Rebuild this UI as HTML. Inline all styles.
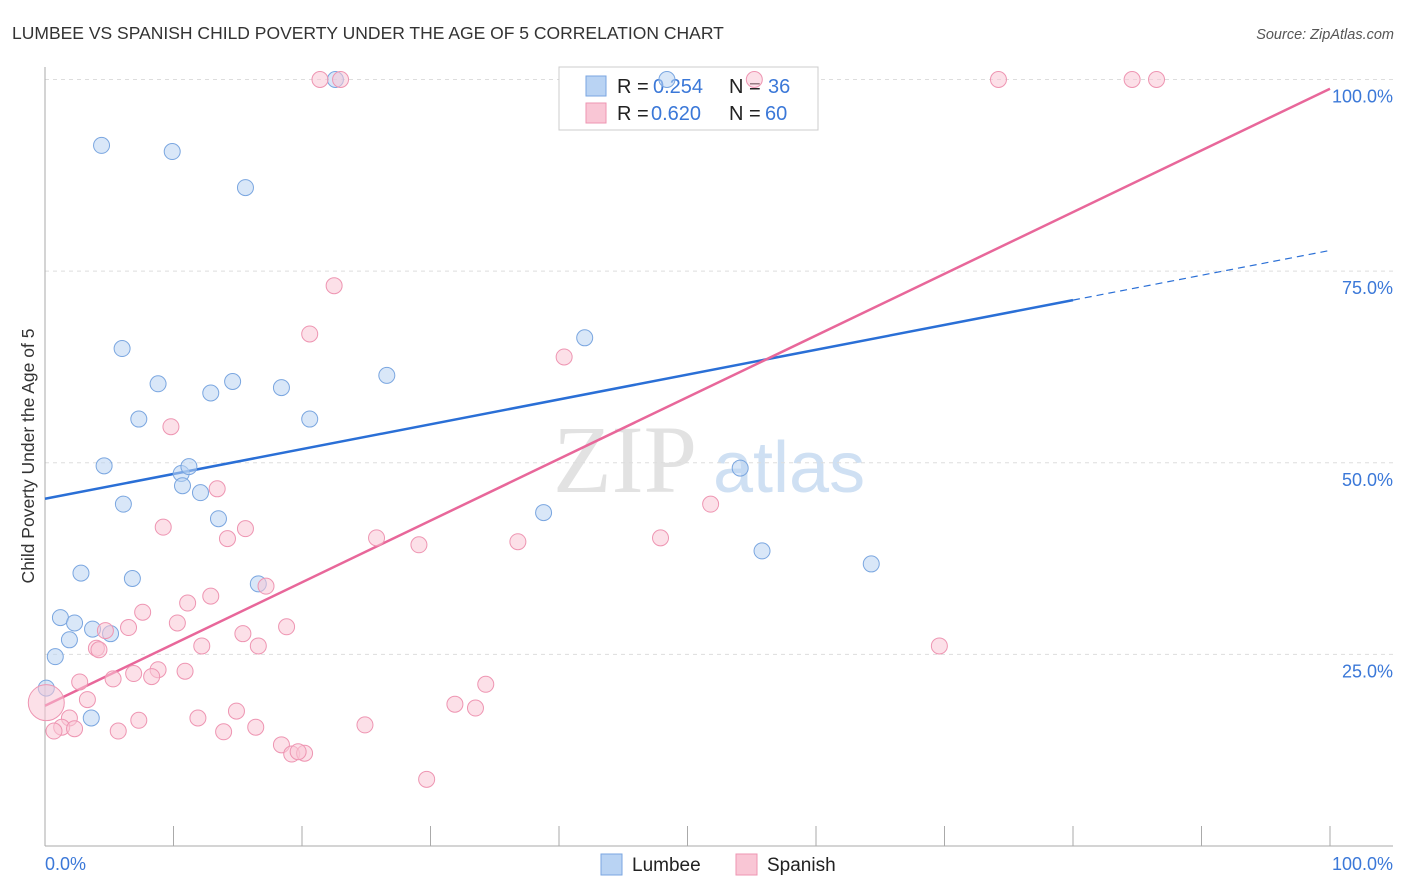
<!DOCTYPE html>
<html><head><meta charset="utf-8"><style>
body{margin:0;background:#fff;font-family:"Liberation Sans",sans-serif;}
svg{display:block}
</style></head><body>
<svg id="chart" width="1406" height="892">
<text x="12" y="39" font-size="17.5" fill="#333">LUMBEE VS SPANISH CHILD POVERTY UNDER THE AGE OF 5 CORRELATION CHART</text>
<text x="1394" y="39" font-size="14.5" fill="#555" font-style="italic" text-anchor="end">Source: ZipAtlas.com</text>
<g>
<text x="553" y="492" font-size="96" font-family="Liberation Serif,serif" fill="#e2e2e2">ZIP</text>
<text x="713" y="492" font-size="72" fill="#cfe0f3">atlas</text>
</g>
<text transform="translate(34,456) rotate(-90)" font-size="17.5" fill="#333" text-anchor="middle">Child Poverty Under the Age of 5</text>
<g id="grid"></g><g id="axes"></g><g id="lines"></g>
<g>
<rect x="559" y="67" width="259" height="63" fill="#fff" stroke="#ccc"/>
<rect x="586" y="76" width="20" height="20" fill="#b9d3f3" stroke="#7aa6e0"/>
<rect x="586" y="103" width="20" height="20" fill="#f9c6d5" stroke="#ee95b2"/>
<text x="617" y="93" font-size="20" fill="#222">R =</text><text x="653" y="93" font-size="20" fill="#3b78d8">0.254</text>
<text x="729" y="93" font-size="20" fill="#222">N =</text><text x="768" y="93" font-size="20" fill="#3b78d8">36</text>
<text x="617" y="120" font-size="20" fill="#222">R =</text><text x="651" y="120" font-size="20" fill="#3b78d8">0.620</text>
<text x="729" y="120" font-size="20" fill="#222">N =</text><text x="765" y="120" font-size="20" fill="#3b78d8">60</text>
</g>
<g id="pts"></g>
<g>
<rect x="601" y="854" width="21" height="21" fill="#b9d3f3" stroke="#7aa6e0"/>
<text x="632" y="871" font-size="19" fill="#222">Lumbee</text>
<rect x="736" y="854" width="21" height="21" fill="#f9c6d5" stroke="#ee95b2"/>
<text x="767" y="871" font-size="19" fill="#222">Spanish</text>
</g>
</svg>
<script>
const lumbeeX=[4.4,9.9,15.6,22.6,6.0,8.8,12.9,14.6,18.4,7.3,20.6,26.6,42.0,4.6,10.6,11.2,10.7,12.1,6.1,13.5,38.8,54.1,55.8,64.3,2.8,6.8,16.6,1.2,2.3,3.7,5.1,1.9,0.8,0.1,3.6,48.4];
const lumbeeY=[91.4,90.6,85.9,100,64.9,60.3,59.1,60.6,59.8,55.7,55.7,61.4,66.3,49.6,48.6,49.5,47.0,46.1,44.6,42.7,43.5,49.3,38.5,36.8,35.6,34.9,34.2,29.8,29.1,28.3,27.7,26.9,24.7,20.6,16.7,100];
const spanishX=[21.4,23.0,55.2,74.2,84.6,86.5,22.5,20.6,40.4,9.8,13.4,51.8,9.2,15.6,14.2,25.8,29.1,36.8,47.9,17.2,12.9,11.1,7.6,10.3,18.8,6.5,4.7,15.4,12.2,16.6,4.0,4.2,69.6,8.8,10.9,6.9,8.3,2.7,5.3,34.3,3.3,31.9,33.5,14.9,1.9,7.3,11.9,24.9,16.4,1.3,2.3,5.7,0.7,13.9,18.4,19.2,20.2,19.7,29.7,0.1];
const spanishY=[100,100,100,100,100,100,73.1,66.8,63.8,54.7,46.6,44.6,41.6,41.4,40.1,40.2,39.3,39.7,40.2,33.9,32.6,31.7,30.5,29.1,28.6,28.5,28.1,27.7,26.1,26.1,25.8,25.6,26.1,23.0,22.8,22.5,22.1,21.4,21.8,21.1,19.1,18.5,18.0,17.6,16.7,16.4,16.7,15.8,15.5,15.5,15.3,15.0,15.0,14.9,13.2,12.0,12.1,12.3,8.7,18.7];
const lumbeeFit=[45.3,77.7];
const spanishFit=[18.3,98.8];
const yTicks=[25,50,75,100];
const yTickLabels=["25.0%","50.0%","75.0%","100.0%"];
const NS="http://www.w3.org/2000/svg";
const sx=v=>45+v*12.85, sy=v=>846-v*7.665;
function mk(t,a,p){const e=document.createElementNS(NS,t);for(const k in a)e.setAttribute(k,a[k]);document.getElementById(p).appendChild(e);return e;}
yTicks.forEach((t,i)=>{
 const g=mk('line',{x1:45,x2:1393,y1:sy(t),y2:sy(t),stroke:'#ddd','stroke-dasharray':'4,4'},'grid');
 
 
 const l=mk('text',{x:1393,y:sy(t)+23,'font-size':18,fill:'#3b78d8','text-anchor':'end'},'grid');
 l.textContent=yTickLabels[i];
 
 
});
mk('line',{x1:45,x2:45,y1:67,y2:846,stroke:'#aaa'},'axes');
mk('line',{x1:45,x2:1393,y1:846,y2:846,stroke:'#aaa'},'axes');
for(let i=0;i<=10;i++){const t=mk('line',{x1:sx(i*10),x2:sx(i*10),y1:826,y2:846,stroke:'#aaa'},'axes');
 
 }
let a=mk('text',{x:45,y:870,'font-size':18,fill:'#3b78d8'},'axes');a.textContent='0.0%';


a=mk('text',{x:1393,y:870,'font-size':18,fill:'#3b78d8','text-anchor':'end'},'axes');a.textContent='100.0%';


function pts(X,Y,fill,stroke,name){X.forEach((x,i)=>{const r=(name==='spanish-point'&&i===X.length-1)?18:8;
 const c=mk('circle',{cx:sx(x),cy:sy(Y[i]),r:r,fill:fill,'fill-opacity':0.55,stroke:stroke,'stroke-width':1},'pts');
 
 });}
pts(lumbeeX,lumbeeY,'#b9d3f3','#7aa6e0','lumbee-point');
pts(spanishX,spanishY,'#f9c6d5','#ee95b2','spanish-point');
const lb=v=>lumbeeFit[0]+(lumbeeFit[1]-lumbeeFit[0])*v/100;
let l1=mk('line',{x1:sx(0),y1:sy(lb(0)),x2:sx(80),y2:sy(lb(80)),stroke:'#2a6fd6','stroke-width':2.5},'lines');


let l2=mk('line',{x1:sx(80),y1:sy(lb(80)),x2:sx(100),y2:sy(lb(100)),stroke:'#2a6fd6','stroke-width':1.2,'stroke-dasharray':'7,5'},'lines');


let l3=mk('line',{x1:sx(0),y1:sy(spanishFit[0]),x2:sx(100),y2:sy(spanishFit[1]),stroke:'#e8679a','stroke-width':2.5},'lines');


</script>
</body></html>
